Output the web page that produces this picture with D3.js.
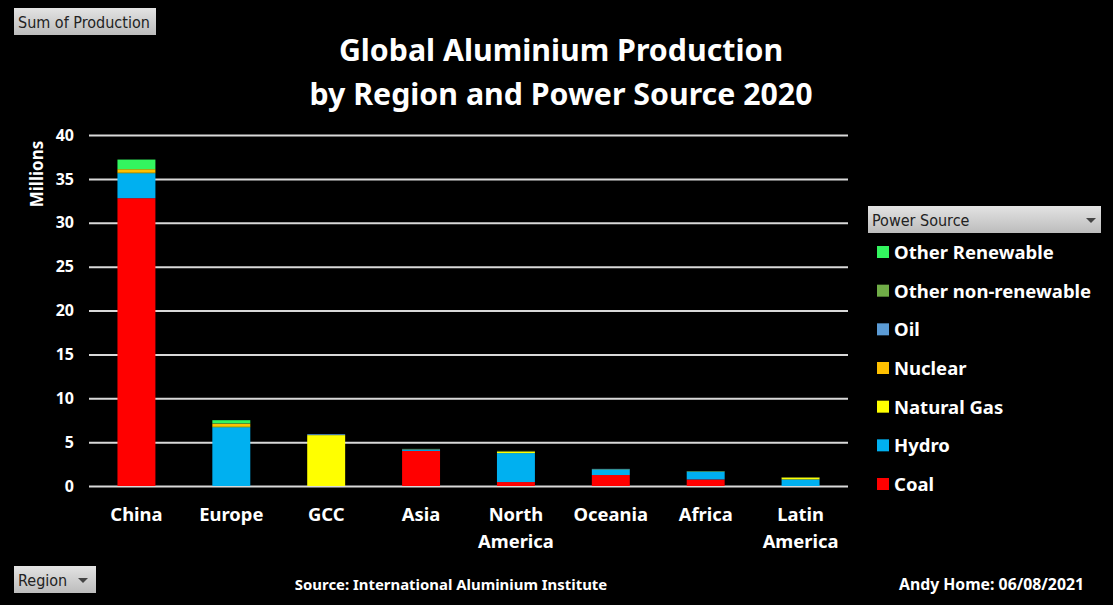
<!DOCTYPE html>
<html>
<head>
<meta charset="utf-8">
<script src="https://cdn.jsdelivr.net/npm/d3@7"></script>
<style>
html, body { margin: 0; padding: 0; background: #000; overflow: hidden; }
text { font-family: "Noto Sans", sans-serif; fill: #fff; font-weight: 700; }
.slicer text { font-family: "DejaVu Sans Condensed", "DejaVu Sans", sans-serif; font-stretch: condensed; font-weight: 400; fill: #222; font-size: 16px; }
.grid line { stroke: #d9d9d9; stroke-width: 2; }
</style>
</head>
<body>
<div id="chart"></div>
<script>
// data, millions of tonnes
const regions = ["China", "Europe", "GCC", "Asia", "North America", "Oceania", "Africa", "Latin America"];
const coal = [32.8, 0, 0, 4.0, 0.45, 1.25, 0.75, 0];
const hydro = [2.85, 6.7, 0, 0.15, 3.3, 0.65, 0.9, 0.75];
const naturalGas = [0.05, 0.1, 5.8, 0.02, 0.15, 0.02, 0.02, 0.2];
const nuclear = [0.4, 0.3, 0, 0, 0.04, 0, 0, 0.02];
const oil = [0, 0, 0.1, 0.03, 0, 0.03, 0, 0];
const otherNonRenewable = [0, 0.05, 0, 0.03, 0.06, 0, 0.03, 0.03];
const otherRenewable = [1.1, 0.35, 0, 0, 0, 0, 0, 0];
const yTicks = [0, 5, 10, 15, 20, 25, 30, 35, 40];

const sourceNames = ["Coal", "Hydro", "Natural Gas", "Nuclear", "Oil", "Other non-renewable", "Other Renewable"];
const sourceValues = [coal, hydro, naturalGas, nuclear, oil, otherNonRenewable, otherRenewable];
const sourceColors = ["#ff0000", "#00b0f0", "#ffff00", "#ffc000", "#5b9bd5", "#70ad47", "#33f55f"];

const width = 1113;
const height = 605;
const margin = { top: 135, right: 265, bottom: 119, left: 89 };
const chartWidth = width - margin.left - margin.right;
const chartHeight = height - margin.top - margin.bottom;

const svg = d3.select("#chart").append("svg")
    .attr("width", width)
    .attr("height", height)
    .style("display", "block");

const defs = svg.append("defs");
const grad = defs.append("linearGradient")
    .attr("id", "slicerFill")
    .attr("x1", 0).attr("x2", 0).attr("y1", 0).attr("y2", 1);
grad.append("stop").attr("offset", "0%").attr("stop-color", "#e3e3e3");
grad.append("stop").attr("offset", "100%").attr("stop-color", "#bcbcbc");

const chartGroup = svg.append("g")
    .attr("transform", `translate(${margin.left}, ${margin.top})`);

// scales
const x = d3.scaleBand()
    .domain(regions)
    .range([0, chartWidth])
    .paddingInner(0.6)
    .paddingOuter(0.3);

const y = d3.scaleLinear()
    .domain([0, 40])
    .range([chartHeight, 0]);

const color = d3.scaleOrdinal().domain(sourceNames).range(sourceColors);

// gridlines and y axis
const leftAxis = d3.axisLeft(y)
    .tickValues(yTicks)
    .tickSize(-chartWidth)
    .tickPadding(15);
const yAxis = chartGroup.append("g")
    .classed("grid", true)
    .call(leftAxis);
yAxis.select(".domain").remove();
yAxis.selectAll("text")
    .style("font-size", "16px")
    .attr("fill", "#fff");

// stacked bars
const rows = regions.map((region, i) => {
    const row = { region: region };
    sourceNames.forEach((name, s) => { row[name] = sourceValues[s][i]; });
    return row;
});
const stacked = d3.stack().keys(sourceNames)(rows);

chartGroup.selectAll("g.series")
    .data(stacked)
    .enter()
    .append("g")
    .classed("series", true)
    .attr("fill", d => color(d.key))
    .selectAll("rect")
    .data(d => d)
    .enter()
    .append("rect")
    .attr("x", d => x(d.data.region))
    .attr("width", x.bandwidth())
    .attr("y", d => y(d[1]))
    .attr("height", d => y(d[0]) - y(d[1]));

// x axis, two-word regions wrap on to a second line
const bottomAxis = d3.axisBottom(x).tickSize(0).tickFormat("");
const xAxis = chartGroup.append("g")
    .attr("transform", `translate(0, ${chartHeight})`)
    .call(bottomAxis);
xAxis.select(".domain").remove();
xAxis.selectAll(".tick").each(function(d) {
    const label = d3.select(this).select("text")
        .attr("y", 35)
        .attr("dy", null)
        .style("font-size", "18.4px");
    d.split(" ").forEach((word, i) => {
        label.append("tspan")
            .attr("x", 0)
            .attr("dy", i === 0 ? 0 : 27)
            .text(word);
    });
});

// y label
svg.append("text")
    .attr("transform", "translate(43, 174) rotate(-90)")
    .attr("text-anchor", "middle")
    .style("font-size", "17px")
    .text("Millions");

// title
const titleLines = ["Global Aluminium Production", "by Region and Power Source 2020"];
svg.selectAll("text.title")
    .data(titleLines)
    .enter()
    .append("text")
    .classed("title", true)
    .attr("x", 561)
    .attr("y", (d, i) => 61 + i * 44)
    .attr("text-anchor", "middle")
    .style("font-size", "30.3px")
    .text(d => d);

// legend, top to bottom is the reverse of the stack
const legendNames = sourceNames.slice().reverse();
const legendY = d3.scalePoint()
    .domain(legendNames)
    .range([252, 484]);
const legend = svg.selectAll("g.legend")
    .data(legendNames)
    .enter()
    .append("g")
    .classed("legend", true)
    .attr("transform", d => `translate(877, ${legendY(d)})`);
legend.append("rect")
    .attr("y", -6)
    .attr("width", 12)
    .attr("height", 12)
    .attr("fill", d => color(d));
legend.append("text")
    .attr("x", 17)
    .attr("y", 7)
    .style("font-size", "18.5px")
    .text(d => d);

// footer
svg.append("text")
    .attr("x", 451).attr("y", 590)
    .attr("text-anchor", "middle")
    .style("font-size", "14.9px")
    .text("Source: International Aluminium Institute");
svg.append("text")
    .attr("x", 1084).attr("y", 590)
    .attr("text-anchor", "end")
    .style("font-size", "15.8px")
    .text("Andy Home: 06/08/2021");

// pivot chart field buttons
function slicer(left, top, w, h, label, arrowX) {
    const g = svg.append("g").classed("slicer", true);
    g.append("rect")
        .attr("x", left).attr("y", top)
        .attr("width", w).attr("height", h)
        .attr("fill", "url(#slicerFill)");
    g.append("text")
        .attr("x", left + 4).attr("y", top + 20)
        .text(label);
    if (arrowX) {
        g.append("path")
            .attr("d", d3.line()([[arrowX - 5, top + 12], [arrowX + 5, top + 12], [arrowX, top + 17]]))
            .attr("fill", "#444");
    }
}
slicer(14, 8, 142, 27, "Sum of Production");
slicer(14, 566, 82, 27, "Region", 83);
slicer(868, 206, 233, 27, "Power Source", 1091);
</script>
</body>
</html>
